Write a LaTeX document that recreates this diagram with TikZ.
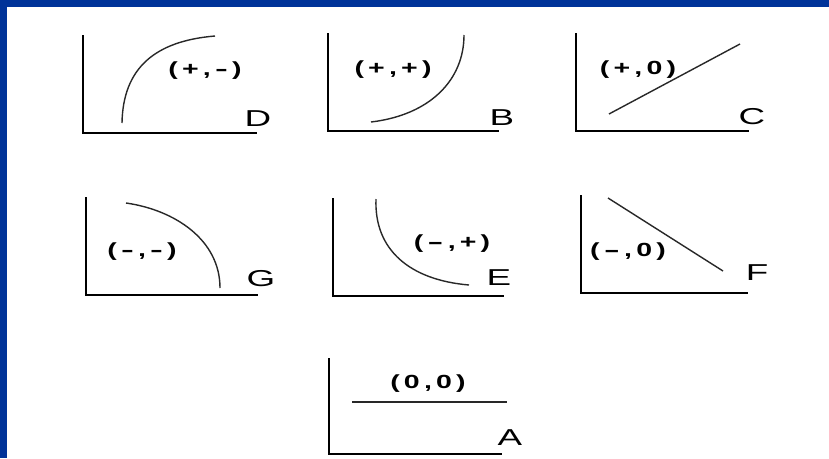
\documentclass[tikz,border=0pt]{standalone}
\usepackage{fontspec}
\setmainfont{Liberation Sans}
\usepackage{graphicx}
\definecolor{slideblue}{RGB}{0,51,153}
\definecolor{curvegray}{RGB}{40,40,40}
\newcommand\pk{\kern2.8pt}
\newcommand\mhy{\scalebox{1.35}[1]{-}}
\newcommand\mmin{\scalebox{1.7}[1]{-}}
\newcommand\signlbl[1]{\scalebox{1.5}[1]{\fontsize{19}{19}\selectfont\bfseries #1}}
\newcommand\caselbl[1]{\scalebox{1.6}[1]{\fontsize{23}{23}\selectfont #1}}
\tikzset{
  axis/.style={draw=black, line width=1.8pt},
  relcurve/.style={draw=curvegray, line width=1.4pt},
  sign/.style={inner sep=0pt, text=black},
  case/.style={inner sep=0pt, text=black},
}
\begin{document}
\begin{tikzpicture}[x=1pt,y=-1pt]
\fill[white] (0,0) rectangle (829,458);
\useasboundingbox (0,0) rectangle (829,458);
\fill[slideblue] (0,0) rectangle (829,7);
\fill[slideblue] (0,0) rectangle (7,458);

% D
\draw[axis] (83,35) |- (257,133);
\draw[relcurve] (122,123) .. controls (123,68) and (155,41) .. (215,36);
\node[sign] (dsign) at (205,71) {\signlbl{(\pk+\pk,\pk\mhy\pk)}};
\node[case] (dcase) at (258,119) {\caselbl{D}};

% B
\draw[axis] (328,33) |- (499,131);
\draw[relcurve] (371,122) .. controls (430,115) and (464,80) .. (464,35);
\node[sign] (bsign) at (393,70) {\signlbl{(\pk+\pk,\pk+\pk)}};
\node[case] (bcase) at (502,118) {\caselbl{B}};

% C
\draw[axis] (576,33) |- (749,131);
\draw[relcurve] (609,114) -- (740,44);
\node[sign] (csign) at (638,70) {\signlbl{(\pk+\pk,\pk0\pk)}};
\node[case] (ccase) at (752,117) {\caselbl{C}};

% G
\draw[axis] (86,197) |- (258,295);
\draw[relcurve] (126,203) .. controls (175,210) and (220,240) .. (220,288);
\node[sign] (gsign) at (142,252) {\signlbl{(\pk\mhy\pk,\pk\mhy\pk)}};
\node[case] (gcase) at (261,279) {\caselbl{G}};

% E
\draw[axis] (333,198) |- (504,296);
\draw[relcurve] (376,199) .. controls (374,250) and (410,280) .. (469,285);
\node[sign] (esign) at (452,244) {\signlbl{(\pk\mmin\pk,\pk+\pk)}};
\node[case] (ecase) at (499,278) {\caselbl{E}};

% F
\draw[axis] (581,195) |- (748,293);
\draw[relcurve] (608,198) -- (723,271);
\node[sign] (fsign) at (628,252) {\signlbl{(\pk\mmin\pk,\pk0\pk)}};
\node[case] (fcase) at (757,273) {\caselbl{F}};

% A
\draw[axis] (329,358) |- (502,454);
\draw[relcurve] (352,402) -- (507,402);
\node[sign] (asign) at (428,384) {\signlbl{(\pk0\pk,\pk0\pk)}};
\node[case] (acase) at (510,438) {\caselbl{A}};
\end{tikzpicture}
\end{document}
